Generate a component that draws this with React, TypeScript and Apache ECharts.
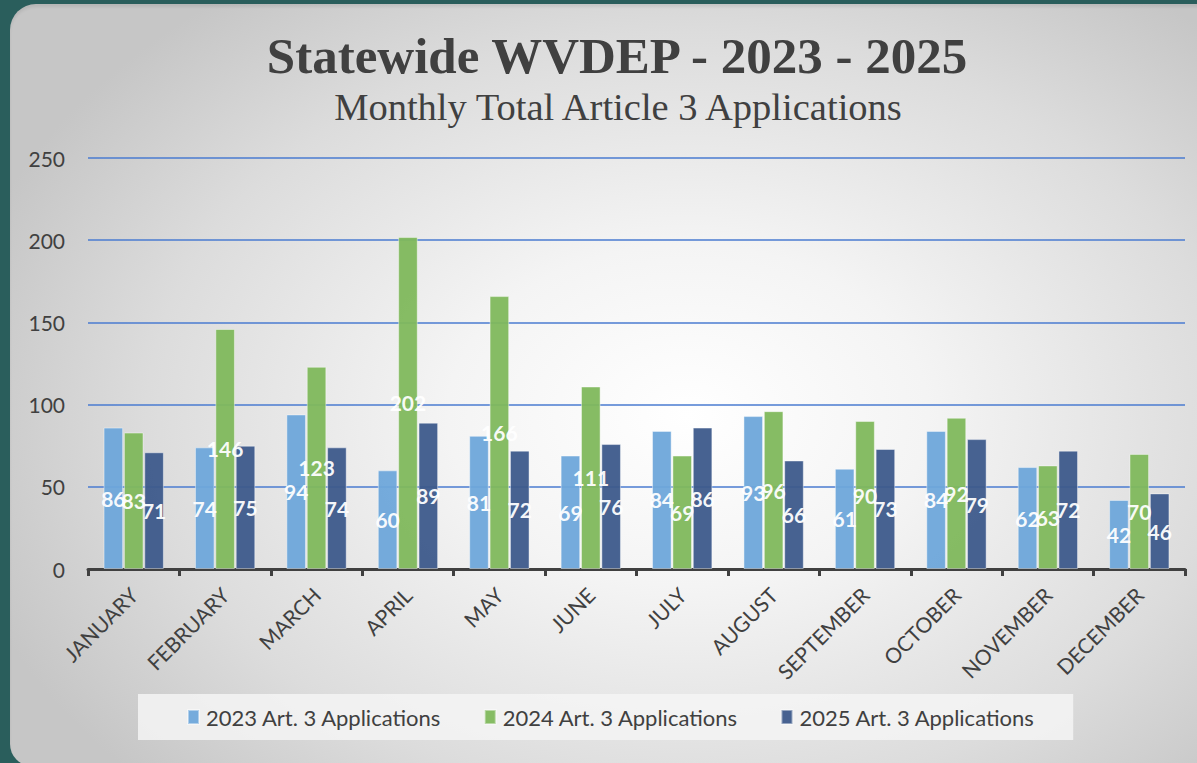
import React, { useEffect, useRef } from "react";
import * as echarts from "echarts";

const months = [
  "JANUARY", "FEBRUARY", "MARCH", "APRIL", "MAY", "JUNE",
  "JULY", "AUGUST", "SEPTEMBER", "OCTOBER", "NOVEMBER", "DECEMBER",
];
const seriesNames = [
  "2023 Art. 3 Applications",
  "2024 Art. 3 Applications",
  "2025 Art. 3 Applications",
];
const values2023 = [86, 74, 94, 60, 81, 69, 84, 93, 61, 84, 62, 42];
const values2024 = [83, 146, 123, 202, 166, 111, 69, 96, 90, 92, 63, 70];
const values2025 = [71, 75, 74, 89, 72, 76, 86, 66, 73, 79, 72, 46];
const yMin = 0;
const yMax = 250;
const yStep = 50;

const titleText = "Statewide WVDEP - 2023 - 2025";
const subtitleText = "Monthly Total Article 3 Applications";
const colors = ["#6ea6da", "#7fb85c", "#3d5a8b"];

const sans = "Lato, 'Open Sans', sans-serif";
const serif = "'Liberation Serif', 'DejaVu Serif', serif";

export default function App() {
  const ref = useRef<HTMLDivElement>(null);
  useEffect(() => {
    document.body.style.margin = "0";
    const chart = echarts.init(ref.current!, null, { renderer: "svg" });
    const allValues = [values2023, values2024, values2025];
    chart.setOption({
      animation: false,
      backgroundColor: "transparent",
      title: [
        {
          text: titleText,
          left: 612,
          textAlign: "center",
          top: 25,
          textStyle: { fontFamily: serif, fontWeight: "bold", fontSize: 51, color: "#404040" },
        },
        {
          text: subtitleText,
          left: 613,
          textAlign: "center",
          top: 82,
          textStyle: { fontFamily: serif, fontWeight: "normal", fontSize: 38.5, color: "#404040" },
        },
      ],
      legend: {
        left: 138,
        top: 694,
        padding: [12, 38, 12, 49],
        backgroundColor: "rgba(244,244,244,0.85)",
        itemWidth: 11,
        itemHeight: 14,
        itemGap: 42,
        icon: "rect",
        textStyle: { fontFamily: sans, fontSize: 22, color: "#404040", padding: [0, 0, 0, 2] },
        data: seriesNames,
      },
      grid: { left: 88, right: 12, top: 158, bottom: 194, containLabel: false },
      xAxis: {
        type: "category",
        data: months,
        axisLine: { lineStyle: { color: "#404040", width: 3 } },
        axisTick: { show: true, length: 7, lineStyle: { color: "#404040", width: 3 } },
        axisLabel: {
          rotate: 45,
          margin: 22,
          fontFamily: sans,
          fontSize: 21,
          color: "#404040",
        },
      },
      yAxis: {
        type: "value",
        min: yMin,
        max: yMax,
        interval: yStep,
        axisLine: { show: false },
        axisTick: { show: false },
        axisLabel: { margin: 23, fontFamily: sans, fontSize: 21, color: "#404040" },
        splitLine: { lineStyle: { color: "#4a7bd0", width: 1.5 } },
      },
      series: seriesNames.map((name, i) => ({
        name,
        type: "bar",
        data: allValues[i],
        barGap: "4%",
        barCategoryGap: "34%",
        itemStyle: {
          color: colors[i],
          opacity: 0.95,
          borderColor: "rgba(255,255,255,0.45)",
          borderWidth: 1,
        },
        label: {
          show: true,
          position: "inside",
          fontFamily: sans,
          fontWeight: "bold",
          fontSize: 21,
          color: "#ffffff",
        },
      })),
    });
    return () => chart.dispose();
  }, []);
  return (
    <div
      style={{
        position: "absolute",
        left: 0,
        top: 0,
        width: 1197,
        height: 763,
        background: "#2a5e5c",
        overflow: "hidden",
      }}
    >
      <div
        style={{
          position: "absolute",
          left: 10,
          top: 4,
          width: 1210,
          height: 762,
          borderRadius: "26px 0 0 22px",
          background:
            "radial-gradient(ellipse 62% 70% at 56% 54%, #ffffff 0%, #f4f4f4 32%, #dcdcdc 72%, #c6c6c6 100%)",
          boxShadow: "inset 0 3px 3px rgba(0,0,0,0.08)",
        }}
      />
      <div ref={ref} style={{ position: "absolute", left: 0, top: 0, width: 1197, height: 763 }} />
    </div>
  );
}
